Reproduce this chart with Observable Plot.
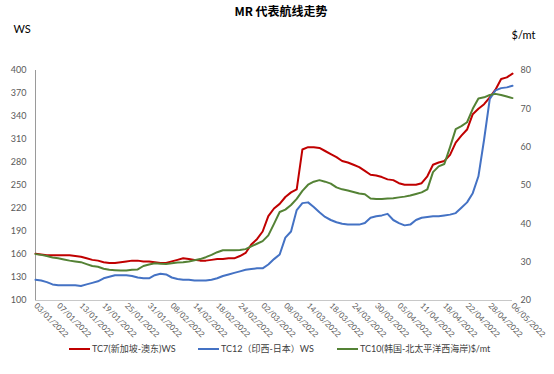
<!DOCTYPE html>
<html><head><meta charset="utf-8">
<script src="https://cdn.jsdelivr.net/npm/d3@7"></script>
<script src="https://cdn.jsdelivr.net/npm/@observablehq/plot@0.6"></script>
<style>
body{margin:0;background:#fff;width:554px;height:374px;overflow:hidden;font-family:Lato,"Noto Sans CJK SC",sans-serif;}
#title{height:20px;line-height:22px;text-align:center;font-weight:bold;font-size:12px;font-family:"Noto Sans CJK SC",sans-serif;padding-left:8px;color:#000;}
#legend{position:relative;height:34px;font-size:9px;color:#404040;font-family:Lato,"Noto Sans CJK SC",sans-serif;}
.item{position:absolute;top:2px;display:flex;align-items:center;white-space:nowrap;}
.sw{width:21px;height:2px;margin-right:2px;}
svg{display:block}
</style></head>
<body>
<div id="title">MR 代表航线走势</div>
<div id="chart"></div>
<div id="legend"></div>
<script>
const tickLabels = ["03/01/2022","07/01/2022","13/01/2022","19/01/2022","25/01/2022","31/01/2022","08/02/2022","14/02/2022","18/02/2022","24/02/2022","02/03/2022","08/03/2022","14/03/2022","18/03/2022","24/03/2022","30/03/2022","05/04/2022","11/04/2022","18/04/2022","22/04/2022","28/04/2022","06/05/2022"];
const seriesNames = ["TC7(新加坡-澳东)WS","TC12（印西-日本）WS","TC10(韩国-北太平洋西海岸)$/mt"];
const seriesColors = ["#C00000","#4472C4","#548235"];
const tc7 = [161,160,159,159,159,159,159,158,157,155,153,152,150,149,149,150,151,152,152,151,151,150,149,149,151,153,155,154,153,152,152,153,154,154,155,155,158,162,173,180,190,210,220,226,235,241,245,297,300,300,299,295,291,287,282,280,277,274,269,264,263,261,258,257,253,251,251,251,253,262,277,280,282,290,306,315,323,343,350,356,365,375,389,391,396];
const tc12 = [127,126,124,121,120,120,120,120,119,121,123,125,129,131,133,133,133,132,130,129,129,133,135,134,130,128,127,127,126,126,126,127,129,132,134,136,138,140,141,142,142,147,154,160,182,190,218,227,228,222,215,209,205,202,200,199,199,199,201,208,210,211,213,205,201,198,199,205,208,209,210,210,211,212,214,221,228,240,262,310,363,374,377,378,380];
const tc10 = [32.1,31.9,31.6,31.2,31.0,30.7,30.4,30.2,30.0,29.5,29.0,28.8,28.3,28.0,27.9,27.8,27.8,28.0,28.1,29.0,29.4,29.7,29.6,29.5,29.7,29.9,30.0,30.2,30.5,30.8,31.3,31.9,32.6,33.1,33.1,33.1,33.2,33.4,34.1,34.8,35.5,37.0,40.0,43.1,43.7,44.9,46.5,48.6,50.2,51.0,51.4,51.0,50.5,49.5,49.0,48.7,48.3,47.9,47.7,46.6,46.5,46.5,46.6,46.7,46.9,47.1,47.4,47.8,48.2,49.0,53.5,55.0,55.6,60.0,64.7,65.5,66.5,70.0,72.7,73.0,73.6,73.9,73.6,73.2,72.8];
const leftTicks = [100,130,160,190,220,250,280,310,340,370,400];
const rightTicks = [20,30,40,50,60,70,80];

// right axis ($/mt) mapped onto left scale: 20..80 -> 100..400
const toLeft = r => (r - 20) * 5 + 100;
const fromLeft = l => (l - 100) / 5 + 20;

const rows = [];
tc7.forEach((v,i)=>rows.push({i, y:v, s:seriesNames[0]}));
tc12.forEach((v,i)=>rows.push({i, y:v, s:seriesNames[1]}));
tc10.forEach((v,i)=>rows.push({i, y:toLeft(v), s:seriesNames[2]}));

const tickFont = {fontSize: 9, fill: "#595959"};
const chart = Plot.plot({
  width: 554, height: 320,
  marginTop: 50, marginBottom: 40, marginLeft: 35, marginRight: 42,
  style: {fontFamily: "Lato, sans-serif", background: "#fff"},
  x: {domain: [0, tc7.length - 1]},
  y: {domain: [100, 400]},
  color: {domain: seriesNames, range: seriesColors},
  marks: [
    Plot.axisY({anchor: "left", ticks: leftTicks, tickSize: 0, tickPadding: 9, label: null, fontSize: 9, color: "#595959"}),
    Plot.axisY({anchor: "right", ticks: rightTicks.map(toLeft), tickFormat: d => fromLeft(d), tickSize: 0, tickPadding: 8, label: null, fontSize: 9, color: "#595959", textAnchor: "start"}),
    Plot.axisX({ticks: tickLabels.map((d,k)=>k*4), tickFormat: d => tickLabels[d/4], tickRotate: 45, tickSize: 0, tickPadding: 4, label: null, fontSize: 8, color: "#595959"}),
    Plot.ruleY([100], {stroke: "#c8c8c8", strokeWidth: 1}),
    Plot.ruleX([0], {stroke: "#9a9a9a", strokeWidth: 1}),
    Plot.line(rows, {x: "i", y: "y", z: "s", stroke: "s", strokeWidth: 2, curve: "linear"}),
    Plot.text(["WS"], {frameAnchor: "top-left", dx: -22, dy: -45, textAnchor: "start", fontSize: 11, fill: "#000"}),
    Plot.text(["$/mt"], {frameAnchor: "top-right", dx: -1, dy: -39, textAnchor: "start", fontSize: 11, fill: "#000"})
  ]
});
document.getElementById("chart").appendChild(chart);

const legend = document.getElementById("legend");
const lx = [69, 198, 337];
seriesNames.forEach((n,k)=>{
  const it = document.createElement("div");
  it.className = "item"; it.style.left = lx[k] + "px";
  it.innerHTML = `<span class="sw" style="background:${seriesColors[k]}"></span><span>${n}</span>`;
  legend.appendChild(it);
});
</script>
</body></html>
